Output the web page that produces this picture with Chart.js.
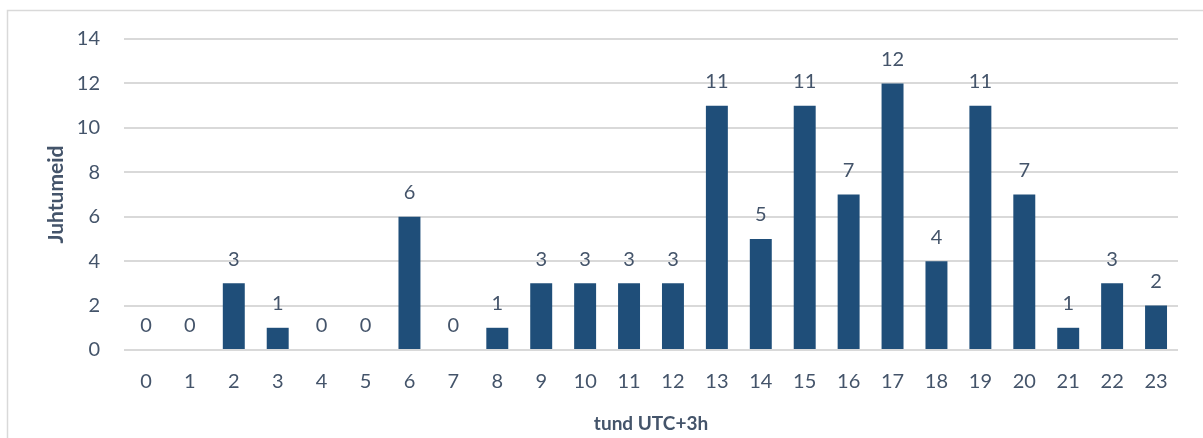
<!DOCTYPE html>
<html>
<head>
<meta charset="utf-8">
<script src="https://cdn.jsdelivr.net/npm/chart.js@4/dist/chart.umd.min.js"></script>
<style>
html,body{margin:0;padding:0;background:#fff;}
#wrap{width:1203px;height:438px;position:relative;}
</style>
</head>
<body>
<div id="wrap"><canvas id="c" width="1203" height="438"></canvas></div>
<script>
const categories = ["0","1","2","3","4","5","6","7","8","9","10","11","12","13","14","15","16","17","18","19","20","21","22","23"];
const values = [0,0,3,1,0,0,6,0,1,3,3,3,3,11,5,11,7,12,4,11,7,1,3,2];
const yTicks = [0,2,4,6,8,10,12,14];
const xTitle = "tund UTC+3h";
const yTitle = "Juhtumeid";

const textColor = "#44546A";
const FONT = "Lato, 'Open Sans', sans-serif";

const frame = {
  id: 'frame',
  beforeDraw(chart) {
    const ctx = chart.ctx;
    ctx.save();
    ctx.fillStyle = '#fff';
    ctx.fillRect(0,0,chart.width,chart.height);
    ctx.strokeStyle = '#D9D9D9';
    ctx.lineWidth = 1.5;
    ctx.strokeRect(7.5, 10.5, chart.width + 10, chart.height + 10);
    ctx.restore();
  }
};

const labels = {
  id: 'valueLabels',
  afterDatasetsDraw(chart) {
    const ctx = chart.ctx;
    const meta = chart.getDatasetMeta(0);
    ctx.save();
    ctx.font = "20px " + FONT;
    ctx.fillStyle = textColor;
    ctx.textAlign = 'center';
    ctx.textBaseline = 'middle';
    meta.data.forEach((el, i) => {
      ctx.fillText(String(values[i]), el.x, el.y - 24);
    });
    ctx.restore();
  }
};

new Chart(document.getElementById('c'), {
  type: 'bar',
  data: {
    labels: categories,
    datasets: [{
      data: values,
      backgroundColor: '#1F4E79',
      borderWidth: 0,
      categoryPercentage: 1.0,
      barPercentage: 0.5
    }]
  },
  options: {
    responsive: false,
    animation: false,
    devicePixelRatio: 1,
    layout: { padding: { left: 0, top: 39, right: 25, bottom: 0 } },
    plugins: { legend: { display: false }, tooltip: { enabled: false } },
    scales: {
      x: {
        grid: { display: false, drawTicks: false },
        border: { display: false },
        ticks: { color: textColor, font: { family: FONT, size: 20 }, padding: 20, maxRotation: 0, autoSkip: false },
        title: { display: true, text: xTitle, color: textColor, font: { family: FONT, size: 19, weight: 'bold' }, padding: { top: 0, bottom: 3 } },
        afterFit(s) { s.height = 88; }
      },
      y: {
        min: 0, max: 14,
        afterBuildTicks(s) { s.ticks = yTicks.map(v => ({ value: v })); },
        grid: { color: '#D9D9D9', lineWidth: 2, drawTicks: false },
        border: { display: false },
        ticks: { color: textColor, font: { family: FONT, size: 20 }, padding: 24 },
        title: { display: true, text: yTitle, color: textColor, font: { family: FONT, size: 21, weight: 'bold' }, padding: { top: 44, bottom: 0 } },
        afterFit(s) { s.width = 124; }
      }
    }
  },
  plugins: [frame, labels]
});
</script>
</body>
</html>
